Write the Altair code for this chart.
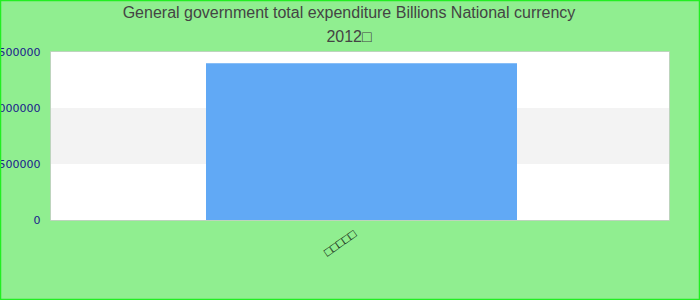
import altair as alt
import pandas as pd

categories = ["□□□□□"]
values = [1400000]
band_starts = [0, 500000, 1000000]
band_ends = [500000, 1000000, 1500000]
band_colors = ["#ffffff", "#f3f3f3", "#ffffff"]
title_lines = ["General government total expenditure Billions National currency", "2012□"]

bars = pd.DataFrame({"cat": categories, "val": values})
bands = pd.DataFrame({"y0": band_starts, "y1": band_ends, "c": band_colors})
titles = pd.DataFrame({"t": title_lines, "i": [0, 1]})

yscale = alt.Scale(domain=[0, 1500000], nice=False, zero=True)

band_layer = alt.Chart(bands).mark_rect().encode(
    x=alt.value(0),
    x2=alt.value(618),
    y=alt.Y("y0:Q", scale=yscale),
    y2="y1:Q",
    fill=alt.Fill("c:N", scale=None),
)

bar_layer = alt.Chart(bars).mark_bar(color="#61a9f5", size=311, xOffset=1.5).encode(
    x=alt.X("cat:N", title=None, scale=alt.Scale(paddingInner=0.5, paddingOuter=0.25),
            axis=alt.Axis(labelAngle=-35, labelAlign="right", labelBaseline="top",
                          ticks=False, domain=False, labelFontSize=12, labelColor="#000000",
                          labelPadding=8, labelOffset=-8)),
    y=alt.Y("val:Q", scale=yscale, title=None,
            axis=alt.Axis(values=[0, 500000, 1000000, 1500000], ticks=False, domain=False,
                          grid=False, labelColor="#1a1a8c", labelFontSize=11,
                          labelPadding=11, format="d", labelFont="DejaVu Sans")),
)

title_layer = alt.Chart(titles).transform_filter("datum.i == 0").mark_text(
    fontSize=16, font="Liberation Sans", color="#444444", align="center", baseline="middle"
).encode(text="t:N", x=alt.value(298), y=alt.value(-39))

title_layer2 = alt.Chart(titles).transform_filter("datum.i == 1").mark_text(
    fontSize=16, font="Liberation Sans", color="#444444", align="center", baseline="middle"
).encode(text="t:N", x=alt.value(298), y=alt.value(-15))

frame = alt.Chart(bars).mark_rect(filled=False, stroke="#22ee22", strokeWidth=1.5).encode(
    x=alt.value(-50.5), x2=alt.value(648.5), y=alt.value(-51.5), y2=alt.value(247.5)
)

chart = alt.layer(band_layer, bar_layer, title_layer, title_layer2, frame).properties(
    width=618,
    height=168,
    autosize=alt.AutoSizeParams(type="none"),
    padding={"left": 51, "top": 52, "right": 31, "bottom": 80},
    background="#90ee90",
).configure_view(stroke="#cccccc", fill="#ffffff", strokeWidth=1.5)

chart.save("out.html", embed_options={"renderer": "svg", "actions": False})
